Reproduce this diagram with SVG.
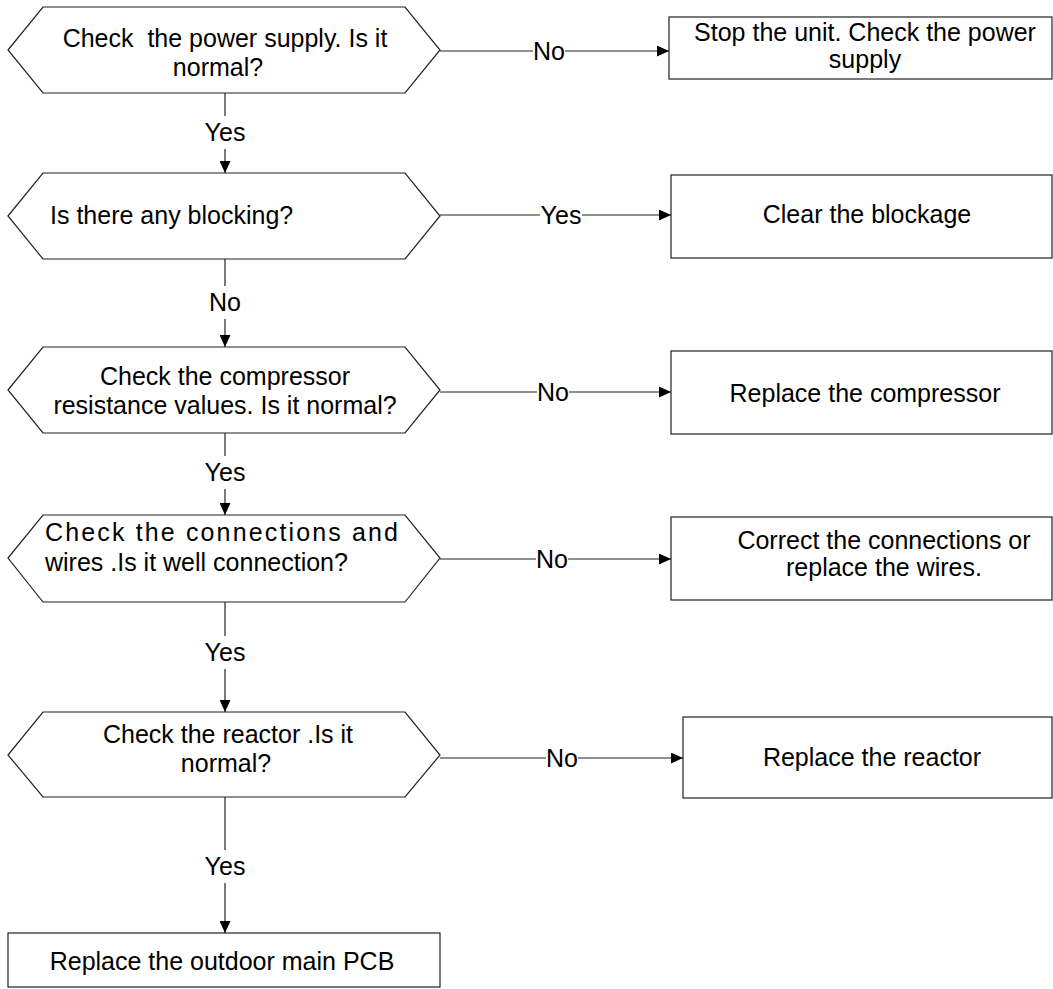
<svg xmlns="http://www.w3.org/2000/svg" width="1053" height="989" viewBox="0 0 1053 989">
<defs>
<marker id="arr" markerWidth="13" markerHeight="11" refX="12" refY="5.5" orient="auto" markerUnits="userSpaceOnUse">
<path d="M0,0 L12,5.5 L0,11 Z" fill="#000"/>
</marker>
<style>
.shape{fill:#fff;stroke:#222;stroke-width:1.2}
.t{font-family:"Liberation Sans",Arial,sans-serif;font-size:25px;fill:#000;white-space:pre}
.m{text-anchor:middle}
.line{fill:none;stroke:#222;stroke-width:1.2}
.lbl{font-family:"Liberation Sans",Arial,sans-serif;font-size:25px;fill:#000;text-anchor:middle}
.bg{fill:#fff}
</style>
</defs>
<rect width="1053" height="989" fill="#fff"/>
<g id="connectors">
<path class="line" d="M225,93 V173" marker-end="url(#arr)"/>
<path class="line" d="M225,259 V347" marker-end="url(#arr)"/>
<path class="line" d="M225,433 V515" marker-end="url(#arr)"/>
<path class="line" d="M225,602 V712" marker-end="url(#arr)"/>
<path class="line" d="M225,797 V933" marker-end="url(#arr)"/>
<path class="line" d="M440,51 H669" marker-end="url(#arr)"/>
<path class="line" d="M440,215 H671" marker-end="url(#arr)"/>
<path class="line" d="M440,392 H671" marker-end="url(#arr)"/>
<path class="line" d="M440,559 H671" marker-end="url(#arr)"/>
<path class="line" d="M440,758 H683" marker-end="url(#arr)"/>
<rect class="bg" x="204" y="116" width="42" height="33"/><text class="lbl" x="225" y="141">Yes</text>
<rect class="bg" x="208" y="286" width="34" height="33"/><text class="lbl" x="225" y="311">No</text>
<rect class="bg" x="204" y="456" width="42" height="33"/><text class="lbl" x="225" y="481">Yes</text>
<rect class="bg" x="204" y="636" width="42" height="33"/><text class="lbl" x="225" y="661">Yes</text>
<rect class="bg" x="204" y="850" width="42" height="33"/><text class="lbl" x="225" y="875">Yes</text>
<rect class="bg" x="533" y="38" width="32" height="26"/><text class="lbl" x="549" y="60">No</text>
<rect class="bg" x="540" y="202" width="42" height="26"/><text class="lbl" x="561" y="224">Yes</text>
<rect class="bg" x="537" y="379" width="32" height="26"/><text class="lbl" x="553" y="401">No</text>
<rect class="bg" x="536" y="546" width="32" height="26"/><text class="lbl" x="552" y="568">No</text>
<rect class="bg" x="546" y="745" width="32" height="26"/><text class="lbl" x="562" y="767">No</text>
</g>
<g id="q1">
<polygon class="shape" points="8,50 43,7 405,7 440,50 405,93 43,93"/>
<text class="t m" x="225" y="47" xml:space="preserve">Check  the power supply. Is it</text>
<text class="t m" x="218" y="76">normal?</text>
</g>
<g id="q2">
<polygon class="shape" points="8,216 43,173 405,173 440,216 405,259 43,259"/>
<text class="t" x="50" y="224">Is there any blocking?</text>
</g>
<g id="q3">
<polygon class="shape" points="8,390 43,347 405,347 440,390 405,433 43,433"/>
<text class="t m" x="225" y="385">Check the compressor</text>
<text class="t m" x="225" y="414">resistance values. Is it normal?</text>
</g>
<g id="q4">
<polygon class="shape" points="8,558 43,515 405,515 440,558 405,602 43,602"/>
<text class="t" x="45" y="541" textLength="353" lengthAdjust="spacing">Check the connections and</text>
<text class="t" x="45" y="571">wires .Is it well connection?</text>
</g>
<g id="q5">
<polygon class="shape" points="8,755 43,712 405,712 440,755 405,797 43,797"/>
<text class="t m" x="228" y="743">Check the reactor .Is it</text>
<text class="t m" x="226" y="772">normal?</text>
</g>
<g id="a1">
<rect class="shape" x="669" y="17" width="383" height="62"/>
<text class="t m" x="865" y="41">Stop the unit. Check the power</text>
<text class="t m" x="865" y="68">supply</text>
</g>
<g id="a2">
<rect class="shape" x="671" y="175" width="381" height="83"/>
<text class="t m" x="867" y="223">Clear the blockage</text>
</g>
<g id="a3">
<rect class="shape" x="671" y="351" width="381" height="83"/>
<text class="t m" x="865" y="402">Replace the compressor</text>
</g>
<g id="a4">
<rect class="shape" x="671" y="517" width="381" height="83"/>
<text class="t m" x="884" y="549">Correct the connections or</text>
<text class="t m" x="884" y="576">replace the wires.</text>
</g>
<g id="a5">
<rect class="shape" x="683" y="717" width="369" height="81"/>
<text class="t m" x="872" y="766">Replace the reactor</text>
</g>
<g id="pcb">
<rect class="shape" x="8" y="933" width="432" height="54"/>
<text class="t m" x="222" y="970">Replace the outdoor main PCB</text>
</g>
</svg>
